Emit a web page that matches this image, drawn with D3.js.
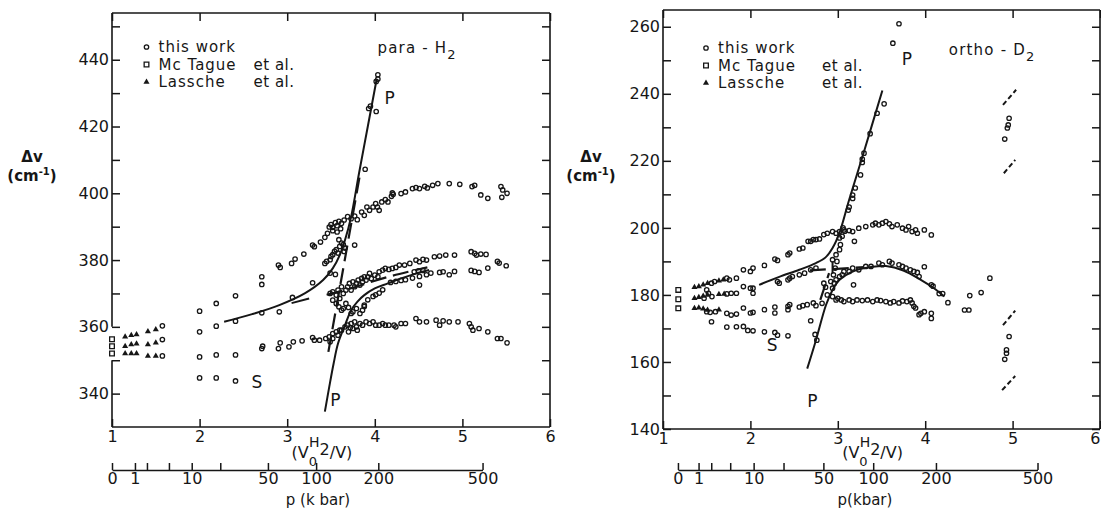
<!DOCTYPE html>
<html>
<head>
<meta charset="utf-8">
<script src="https://cdn.jsdelivr.net/npm/d3@7"></script>
<style>
  body { margin: 0; background: #fff; }
  text { font-family: "DejaVu Sans", sans-serif; fill: #161616; }
</style>
</head>
<body>
<svg id="chart"></svg>
<script>
// ---------- para-H2 (left panel) ----------
const leftMcTague = [[1.0, 356.3], [1.0, 354.2], [1.0, 352.0]];

const leftLassche = [
    [1.15, 357.0], [1.22, 357.5], [1.28, 357.7], [1.41, 358.6], [1.50, 359.2],
    [1.15, 354.2], [1.22, 354.7], [1.28, 354.9], [1.41, 354.7], [1.50, 355.2],
    [1.15, 352.0], [1.22, 352.0], [1.28, 352.0], [1.41, 351.3], [1.50, 351.3]
];

const leftLowP = [
    [1.575, 360.3], [1.575, 356.2], [1.575, 351.3],
    [2.0, 364.7], [2.0, 358.5], [2.0, 351.0], [2.0, 344.7],
    [2.19, 367.0], [2.19, 360.2], [2.19, 351.6], [2.19, 344.7],
    [2.41, 369.3], [2.41, 361.7], [2.41, 351.6], [2.41, 343.8],
    [2.71, 375.0], [2.71, 372.7], [2.71, 364.2], [2.71, 353.5], [2.72, 354.2],
    [2.90, 378.5], [2.92, 377.8], [2.91, 364.5], [2.90, 353.5], [2.92, 355.2],
    [3.05, 379.0], [3.09, 380.3], [3.06, 368.8], [3.02, 354.0], [3.07, 355.5],
    [3.19, 381.8], [3.17, 355.8], [3.29, 384.5], [3.31, 384.0], [3.29, 373.2],
    [3.29, 356.8], [3.31, 356.0], [3.37, 356.0], [3.38, 385.4]
];

const leftUpper = [
    [3.43, 386.8], [3.46, 388.0], [3.48, 389.9], [3.50, 390.6], [3.52, 389.8], [3.52, 388.8],
    [3.55, 391.2], [3.57, 390.3], [3.57, 388.4], [3.59, 391.6], [3.61, 389.4], [3.62, 391.0],
    [3.65, 392.0], [3.69, 393.0], [3.73, 392.4], [3.77, 393.2], [3.80, 392.1], [3.85, 394.4],
    [3.88, 393.4], [3.91, 395.9], [3.94, 394.9], [3.98, 395.9], [4.01, 396.9], [4.03, 395.9],
    [4.05, 394.9], [4.08, 397.4], [4.12, 398.1], [4.15, 397.4], [4.19, 399.1], [4.21, 399.7],
    [4.20, 400.1], [4.30, 399.9], [4.35, 400.4], [4.43, 401.4], [4.47, 401.7], [4.51, 401.4],
    [4.57, 402.1], [4.60, 401.6], [4.66, 402.4], [4.72, 402.9], [4.85, 402.9], [4.97, 402.7],
    [5.11, 402.0], [5.14, 402.4], [5.21, 399.5], [5.29, 398.5], [5.44, 402.0], [5.46, 401.0],
    [5.51, 400.0], [5.45, 398.8]
];

const leftSteep = [
    [4.035, 435.5], [4.035, 434.2], [4.016, 433.5], [4.016, 424.5], [3.93, 425.4], [3.95, 426.1],
    [3.89, 407.2], [3.77, 384.5], [3.43, 379.0], [3.45, 379.6], [3.49, 380.1], [3.50, 381.1],
    [3.52, 381.6], [3.54, 382.6], [3.56, 383.1], [3.58, 382.1], [3.60, 384.1], [3.62, 385.1],
    [3.64, 384.6], [3.66, 383.6], [3.65, 382.6], [3.49, 376.1], [3.59, 386.1], [3.55, 375.7]
];

const leftMiddle = [
    [3.49, 370.0], [3.52, 370.5], [3.56, 369.5], [3.58, 371.0], [3.60, 368.5], [3.62, 372.0],
    [3.64, 370.0], [3.67, 371.0], [3.69, 372.0], [3.71, 373.0], [3.73, 371.0], [3.75, 373.5],
    [3.77, 372.0], [3.79, 373.0], [3.81, 374.0], [3.83, 372.5], [3.85, 374.5], [3.86, 373.5],
    [3.88, 375.0], [3.90, 374.0], [3.92, 375.0], [3.94, 376.0], [3.96, 374.5], [4.00, 375.5],
    [4.035, 375.0], [4.05, 376.5], [4.09, 377.0], [4.12, 377.5], [4.16, 377.2], [4.20, 377.5],
    [4.24, 377.8], [4.28, 378.5], [4.34, 378.5], [4.40, 379.0], [4.47, 380.0], [4.51, 379.5],
    [4.55, 380.2], [4.59, 380.0], [4.68, 381.0], [4.74, 381.2], [4.81, 381.5], [4.91, 381.5],
    [5.10, 382.5], [5.14, 382.0], [5.16, 381.5], [5.21, 381.8], [5.27, 381.7],
    [3.52, 368.0], [3.56, 367.0], [3.59, 366.0], [3.62, 365.0], [3.64, 365.5], [3.67, 367.0],
    [3.70, 365.8], [3.73, 364.0], [3.75, 364.5], [3.79, 365.5], [3.83, 364.0], [3.86, 365.0],
    [3.88, 366.5]
];

const leftLowerMid = [
    [3.88, 366.1], [3.92, 368.1], [3.98, 369.1], [4.01, 369.6], [4.05, 370.1], [4.09, 371.1],
    [4.18, 373.3], [4.24, 373.6], [4.30, 373.9], [4.35, 374.1], [4.43, 374.6], [4.45, 376.5],
    [4.50, 376.8], [4.55, 376.9], [4.51, 375.1], [4.59, 375.6], [4.64, 376.1], [4.74, 376.3],
    [4.78, 376.5], [4.85, 375.6], [4.91, 376.6], [5.10, 376.9], [5.14, 376.6], [5.19, 376.3],
    [5.29, 377.6], [5.40, 379.6], [5.42, 379.1], [5.50, 378.3], [4.51, 372.5]
];

const leftLower = [
    [3.44, 356.5], [3.48, 357.0], [3.52, 358.0], [3.56, 358.5], [3.60, 359.0], [3.49, 355.5],
    [3.52, 356.5], [3.58, 357.5], [3.62, 359.0], [3.66, 360.0], [3.69, 360.5], [3.70, 358.5],
    [3.72, 359.8], [3.73, 361.0], [3.75, 359.5], [3.77, 361.5], [3.79, 360.0], [3.80, 359.0],
    [3.83, 361.0], [3.86, 360.5], [3.90, 361.5], [3.94, 361.0], [3.98, 361.5], [4.01, 360.5],
    [4.05, 360.5], [4.09, 361.0], [4.12, 360.5], [4.16, 360.5], [4.22, 360.5], [4.24, 360.0],
    [4.30, 361.0], [4.35, 361.0], [4.47, 362.5], [4.51, 361.5], [4.59, 361.5], [4.70, 362.0],
    [4.74, 360.5], [4.78, 361.8], [4.85, 361.5], [4.95, 361.5], [5.08, 361.0], [5.10, 360.0],
    [5.12, 359.0], [5.19, 359.5], [5.29, 358.5], [5.40, 356.5], [5.44, 356.5], [5.51, 355.2]
];

const leftSolidLines = [
    [[2.28, 361.5], [2.6, 363.8], [2.91, 366.5], [3.2, 370.0], [3.41, 374.0], [3.52, 377.5],
     [3.6, 381.5], [3.66, 386.0], [3.73, 393.0], [3.82, 406.0], [3.92, 420.0], [4.02, 434.0]],
    [[3.43, 334.6], [3.48, 342.0], [3.53, 349.0], [3.58, 355.0], [3.66, 360.5], [3.73, 365.0],
     [3.80, 367.5], [3.88, 369.5], [4.0, 371.5], [4.15, 373.0], [4.3, 374.5], [4.45, 375.8], [4.62, 377.0]],
    [[3.05, 367.1], [3.25, 368.5]]
];

const leftDashedLines = [
    [[3.47, 352.5], [3.83, 405.5]],
    [[3.45, 369.6], [3.7, 371.3], [3.95, 373.4], [4.2, 375.3], [4.4, 376.6], [4.6, 377.8]]
];

const leftPressurePos = [1.0, 1.262, 1.399, 1.65, 1.91, 2.236, 2.78, 3.33, 4.04, 5.23];

// ---------- ortho-D2 (right panel) ----------
const rightMcTague = [[1.175, 181.5], [1.175, 178.7], [1.175, 176.0]];

const rightLassche = [
    [1.36, 182.3], [1.41, 182.5], [1.46, 183.0], [1.51, 183.5], [1.64, 184.2], [1.69, 184.5],
    [1.36, 179.0], [1.41, 179.3], [1.46, 179.7], [1.51, 180.0], [1.64, 180.2], [1.70, 180.3],
    [1.36, 176.0], [1.41, 176.2], [1.46, 175.9], [1.51, 175.5], [1.64, 175.6]
];

const rightLowP = [
    [1.50, 181.5], [1.555, 183.5], [1.59, 184.0], [1.73, 185.0], [1.76, 184.5], [1.84, 185.0],
    [1.47, 179.0], [1.52, 180.5], [1.56, 179.5], [1.73, 180.3], [1.78, 180.5], [1.84, 180.5],
    [1.50, 175.0], [1.54, 174.8], [1.60, 175.0], [1.73, 174.5], [1.78, 174.0], [1.84, 174.3],
    [1.555, 172.0], [1.73, 170.4], [1.84, 170.5], [1.92, 170.6], [1.97, 169.4], [2.03, 169.3],
    [2.16, 169.0], [2.28, 168.8], [2.31, 168.0], [2.43, 167.8],
    [1.92, 187.5], [2.0, 187.0], [2.03, 188.0], [2.16, 188.8], [2.28, 190.7], [2.31, 190.3],
    [2.43, 192.0], [2.45, 192.5], [2.56, 193.7], [2.60, 194.0], [2.66, 196.0], [2.69, 196.0],
    [2.72, 196.5], [2.75, 196.5], [2.79, 196.7],
    [1.92, 182.5], [2.0, 182.0], [2.03, 182.0], [2.03, 180.5], [2.31, 184.0], [2.33, 183.5],
    [2.43, 184.5], [2.45, 185.0], [2.48, 185.5], [2.56, 186.0], [2.62, 186.5], [2.69, 187.5], [2.75, 188.0],
    [1.92, 176.1], [2.0, 174.6], [2.03, 174.8], [2.16, 175.6], [2.28, 176.4], [2.28, 174.6],
    [2.43, 176.6], [2.43, 175.6], [2.45, 177.1], [2.56, 176.4], [2.60, 176.8], [2.65, 177.1],
    [2.72, 177.6], [2.75, 176.8], [2.82, 177.5],
    [2.69, 172.3], [2.74, 168.2], [2.76, 166.5]
];

const rightSteep = [
    [2.84, 183.5], [2.86, 182.3], [2.88, 180.0], [2.92, 184.0], [2.95, 186.0], [2.97, 188.0],
    [2.99, 190.0], [2.94, 190.5], [2.98, 192.0], [3.02, 193.5], [3.03, 195.0], [3.02, 197.0],
    [3.05, 197.5], [3.08, 199.0], [3.06, 200.0], [3.13, 206.2], [3.12, 205.3], [3.17, 209.8],
    [3.17, 208.8], [3.20, 211.9], [3.26, 215.8], [3.28, 220.5], [3.28, 219.5], [3.30, 222.3],
    [3.37, 228.1], [3.45, 234.2], [3.53, 237.0], [3.63, 255.1], [3.70, 260.9]
];

const rightUpper = [
    [2.84, 198.0], [2.88, 198.4], [2.94, 198.9], [2.98, 198.4], [3.02, 198.9], [3.07, 199.4],
    [3.13, 199.2], [3.17, 198.9], [3.24, 199.9], [3.32, 200.4], [3.40, 200.9], [3.43, 201.4],
    [3.47, 200.9], [3.51, 201.4], [3.55, 201.9], [3.59, 201.2], [3.62, 200.4], [3.68, 200.9],
    [3.74, 199.9], [3.78, 199.4], [3.81, 200.4], [3.85, 198.9], [3.89, 199.4], [3.91, 198.4],
    [3.19, 196.0], [3.99, 199.4], [4.07, 197.9]
];

const rightMiddle = [
    [2.94, 182.0], [2.96, 183.5], [2.98, 184.5], [3.02, 185.5], [3.05, 186.0], [3.07, 187.0],
    [3.13, 187.0], [3.17, 188.0], [3.24, 187.5], [3.32, 188.5], [3.38, 188.5], [3.47, 189.5],
    [3.51, 189.0], [3.59, 190.0], [3.62, 189.5], [3.70, 189.0], [3.74, 188.5], [3.78, 188.0],
    [3.83, 187.5], [3.87, 187.0], [3.91, 186.7], [3.93, 185.5], [3.99, 188.4], [4.07, 183.0],
    [4.09, 182.6], [4.16, 180.4], [4.20, 180.4], [3.18, 183.0]
];

const rightLower = [
    [2.94, 179.5], [2.98, 178.5], [3.0, 179.0], [3.04, 178.5], [3.07, 178.0], [3.13, 178.5],
    [3.17, 178.0], [3.22, 178.5], [3.28, 178.3], [3.34, 178.5], [3.40, 178.0], [3.45, 178.5],
    [3.49, 178.3], [3.55, 178.0], [3.60, 177.6], [3.64, 178.0], [3.70, 177.6], [3.74, 178.2],
    [3.79, 178.0], [3.83, 178.5], [3.85, 177.6], [3.87, 176.6], [3.89, 176.1], [3.93, 174.1],
    [3.95, 174.5], [3.99, 175.0], [4.07, 174.5], [4.07, 173.0]
];

const rightFar = [
    [4.26, 177.7], [4.45, 175.5], [4.50, 175.5], [4.51, 179.8], [4.64, 180.7], [4.74, 185.0],
    [4.91, 226.5], [4.94, 229.8], [4.95, 230.7], [4.96, 232.7],
    [4.91, 160.8], [4.93, 162.6], [4.93, 163.6], [4.96, 167.6]
];

const rightSolidLines = [
    [[2.1, 183.0], [2.33, 185.4], [2.56, 187.5], [2.75, 189.5], [2.86, 191.2], [2.94, 194.0],
     [3.02, 198.6], [3.13, 208.4], [3.30, 222.8], [3.51, 241.0]],
    [[2.65, 158.0], [2.75, 166.5], [2.865, 177.0], [2.94, 181.5], [3.02, 184.5], [3.17, 187.0],
     [3.40, 188.4], [3.55, 188.6], [3.75, 187.3], [3.95, 184.5], [4.1, 182.0], [4.22, 179.5]],
    [[2.94, 186.3], [2.94, 190.0]]
];

const rightDashedLines = [
    [[2.68, 187.3], [3.30, 188.3]],
    [[2.80, 178.5], [2.90, 186.5]]
];

const rightDottedLines = [
    [[4.89, 236.7], [5.04, 241.2]],
    [[4.90, 216.3], [5.03, 220.3]],
    [[4.89, 171.0], [5.03, 175.3]],
    [[4.88, 151.6], [5.03, 155.8]]
];

const rightPressurePos = [1.171, 1.407, 1.552, 1.769, 2.037, 2.379, 2.835, 3.405, 4.123, 5.285];

// ---------- shared ----------
const xTicks = [1, 2, 3, 4, 5, 6];
const pressureLabels = ["0", "1", "", "", "10", "", "50", "100", "200", "500"];
const legendLabels = ["this work", "Mc Tague", "Lassche"];

const ink = "#161616";
const svg = d3.select("#chart").attr("width", 1101).attr("height", 510);

function drawPanel(cfg) {
    const x = d3.scaleLinear().domain([1, 6]).range(cfg.xRange);
    const y = d3.scaleLinear().domain(cfg.yDomain).range(cfg.yRange);
    const g = svg.append("g");
    const [x0, x1] = cfg.xRange;
    const [yb, yt] = cfg.yRange;

    // frame
    const frame = [[x0, yt, x1, yt], [x1, yt, x1, yb], [x0, yb, x1, yb]];
    cfg.leftSpans.forEach(s => frame.push([x0, y(s[0]), x0, y(s[1])]));
    g.selectAll(".frame").data(frame).enter().append("line")
        .attr("x1", d => d[0]).attr("y1", d => d[1])
        .attr("x2", d => d[2]).attr("y2", d => d[3])
        .attr("stroke", ink).attr("stroke-width", 1.6);

    const styleAxis = a => {
        a.select(".domain").remove();
        a.selectAll("line").attr("stroke", ink).attr("stroke-width", 1.5);
        a.selectAll("text").attr("font-size", 16).attr("font-family", "DejaVu Sans").attr("fill", ink);
    };

    g.append("g").attr("transform", `translate(0,${yb})`)
        .call(d3.axisBottom(x).tickValues(xTicks).tickSizeInner(-8).tickSizeOuter(0).tickPadding(4).tickFormat(d3.format("d")))
        .call(styleAxis)
        .call(a => a.selectAll(".tick text").filter(d => d === 6 && cfg.lastTickEnd).attr("text-anchor", "end"));
    g.append("g").attr("transform", `translate(0,${yt})`)
        .call(d3.axisTop(x).tickValues(xTicks).tickSizeInner(-8).tickSizeOuter(0).tickFormat(""))
        .call(styleAxis);
    g.append("g").attr("transform", `translate(${x0},0)`)
        .call(d3.axisLeft(y).tickValues(cfg.yTicks).tickSizeInner(-8).tickSizeOuter(0).tickPadding(3)
            .tickFormat(d => d % 20 === 0 ? d : ""))
        .call(styleAxis);
    g.append("g").attr("transform", `translate(${x1},0)`)
        .call(d3.axisRight(y).tickValues(cfg.yTicks).tickSizeInner(-8).tickSizeOuter(0).tickFormat(""))
        .call(styleAxis);

    // pressure scale
    const pp = cfg.pressurePos;
    const p = d3.scaleLinear().domain([pp[0], pp[pp.length - 1]]).range([x(pp[0]), x(pp[pp.length - 1])]);
    g.append("g").attr("transform", "translate(0,470)")
        .call(d3.axisBottom(p).tickValues(pp).tickSizeInner(-7).tickSizeOuter(0).tickPadding(3)
            .tickFormat((d, i) => pressureLabels[i]))
        .call(a => a.selectAll("line").attr("stroke", ink).attr("stroke-width", 1.5))
        .call(a => a.select(".domain").attr("stroke", ink).attr("stroke-width", 1.6))
        .call(a => a.selectAll("text").attr("font-size", 16).attr("font-family", "DejaVu Sans").attr("fill", ink));

    // curves
    const line = d3.line().x(d => x(d[0])).y(d => y(d[1])).curve(d3.curveCatmullRom.alpha(0.5));
    g.selectAll(".solid").data(cfg.solid).enter().append("path")
        .attr("d", line).attr("fill", "none").attr("stroke", ink).attr("stroke-width", 2);
    g.selectAll(".dashed").data(cfg.dashed).enter().append("path")
        .attr("d", line).attr("fill", "none").attr("stroke", ink).attr("stroke-width", 2.2)
        .attr("stroke-dasharray", "16,7");
    g.selectAll(".dotted").data(cfg.dotted || []).enter().append("path")
        .attr("d", line).attr("fill", "none").attr("stroke", ink).attr("stroke-width", 2)
        .attr("stroke-dasharray", "5,3");

    // points
    g.selectAll(".work").data(cfg.work).enter().append("circle")
        .attr("cx", d => x(d[0])).attr("cy", d => y(d[1])).attr("r", 2.2)
        .attr("fill", "none").attr("stroke", ink).attr("stroke-width", 1.3);
    g.selectAll(".mct").data(cfg.mcTague).enter().append("path")
        .attr("d", d3.symbol(d3.symbolSquare, 22))
        .attr("transform", d => `translate(${x(d[0])},${y(d[1])})`)
        .attr("fill", "none").attr("stroke", ink).attr("stroke-width", 1.3);
    g.selectAll(".las").data(cfg.lassche).enter().append("path")
        .attr("d", d3.symbol(d3.symbolTriangle, 16))
        .attr("transform", d => `translate(${x(d[0])},${y(d[1])})`)
        .attr("fill", ink);

    // legend
    const lg = g.append("g").attr("transform", `translate(${cfg.legend[0]},${cfg.legend[1]})`);
    legendLabels.forEach((t, i) => {
        const row = lg.append("g").attr("transform", `translate(0,${i * 17.5})`);
        if (i === 0) row.append("circle").attr("r", 2.2).attr("fill", "none").attr("stroke", ink).attr("stroke-width", 1.3);
        if (i === 1) row.append("path").attr("d", d3.symbol(d3.symbolSquare, 22)).attr("fill", "none").attr("stroke", ink).attr("stroke-width", 1.3);
        if (i === 2) row.append("path").attr("d", d3.symbol(d3.symbolTriangle, 16)).attr("fill", ink);
        row.append("text").attr("x", 12).attr("y", 5).attr("font-size", 15).attr("letter-spacing", 1).text(t);
        if (i > 0) row.append("text").attr("x", cfg.etAl).attr("y", 5).attr("font-size", 15).attr("letter-spacing", 0.5).text("et al.");
    });

    // species
    const sp = g.append("text").attr("x", x(cfg.species[1])).attr("y", y(cfg.species[2]))
        .attr("font-size", 15).attr("letter-spacing", 1.2);
    sp.append("tspan").text(cfg.species[0]);
    sp.append("tspan").attr("font-size", 13).attr("dy", 6).text("2");

    // P / S annotations
    g.selectAll(".ann").data(cfg.annotations).enter().append("text")
        .attr("x", d => x(d[1])).attr("y", d => y(d[2]))
        .attr("text-anchor", "middle").attr("dominant-baseline", "central")
        .attr("font-size", 17).text(d => d[0]);

    // y label
    g.append("text").attr("x", cfg.yLabelX).attr("y", 162).attr("text-anchor", "middle")
        .attr("font-size", 15).attr("font-weight", "bold").text("Δv");
    const cm = g.append("text").attr("x", cfg.yLabelX).attr("y", 181).attr("text-anchor", "middle")
        .attr("font-size", 15).attr("font-weight", "bold");
    cm.append("tspan").text("(cm");
    cm.append("tspan").attr("font-size", 10).attr("dy", -6).text("-1");
    cm.append("tspan").attr("dy", 6).text(")");

    // x title
    const xt = g.append("text").attr("x", x(3.05)).attr("y", 458).attr("font-size", 16);
    xt.append("tspan").text("(V");
    xt.append("tspan").attr("font-size", 13).attr("dy", 8).text("0");
    xt.append("tspan").attr("font-size", 14).attr("dx", -8).attr("dy", -19).text("H");
    xt.append("tspan").attr("font-size", 16).attr("dy", 8).text("2");
    xt.append("tspan").attr("dy", 3).text("/V)");

    g.append("text").attr("x", cfg.pTitle[1]).attr("y", 505).attr("text-anchor", "middle")
        .attr("font-size", 15).text(cfg.pTitle[0]);
}

drawPanel({
    xRange: [112, 550], yDomain: [330, 454], yRange: [427, 13],
    yTicks: d3.range(340, 451, 10),
    leftSpans: [[454, 360], [350, 330]],
    pressurePos: leftPressurePos,
    work: [...leftLowP, ...leftUpper, ...leftSteep, ...leftMiddle, ...leftLowerMid, ...leftLower],
    mcTague: leftMcTague, lassche: leftLassche,
    solid: leftSolidLines, dashed: leftDashedLines,
    legend: [146.5, 47], etAl: 107,
    species: ["para - H", 4.03, 441.9],
    annotations: [["P", 4.17, 428.6], ["P", 3.55, 338], ["S", 2.655, 343.6]],
    yLabelX: 32, pTitle: ["p (k bar)", 318]
});

drawPanel({
    xRange: [663, 1100], yDomain: [140, 265], yRange: [429, 10],
    yTicks: d3.range(140, 261, 10),
    leftSpans: [[265, 140]],
    pressurePos: rightPressurePos,
    work: [...rightLowP, ...rightSteep, ...rightUpper, ...rightMiddle, ...rightLower, ...rightFar],
    mcTague: rightMcTague, lassche: rightLassche,
    solid: rightSolidLines, dashed: rightDashedLines, dotted: rightDottedLines,
    legend: [706, 48], etAl: 116,
    species: ["ortho - D", 4.27, 251.5],
    annotations: [["P", 3.79, 250.4], ["P", 2.71, 148.4], ["S", 2.25, 165.2]],
    yLabelX: 591, pTitle: ["p(kbar)", 865], lastTickEnd: true
});
</script>
</body>
</html>
